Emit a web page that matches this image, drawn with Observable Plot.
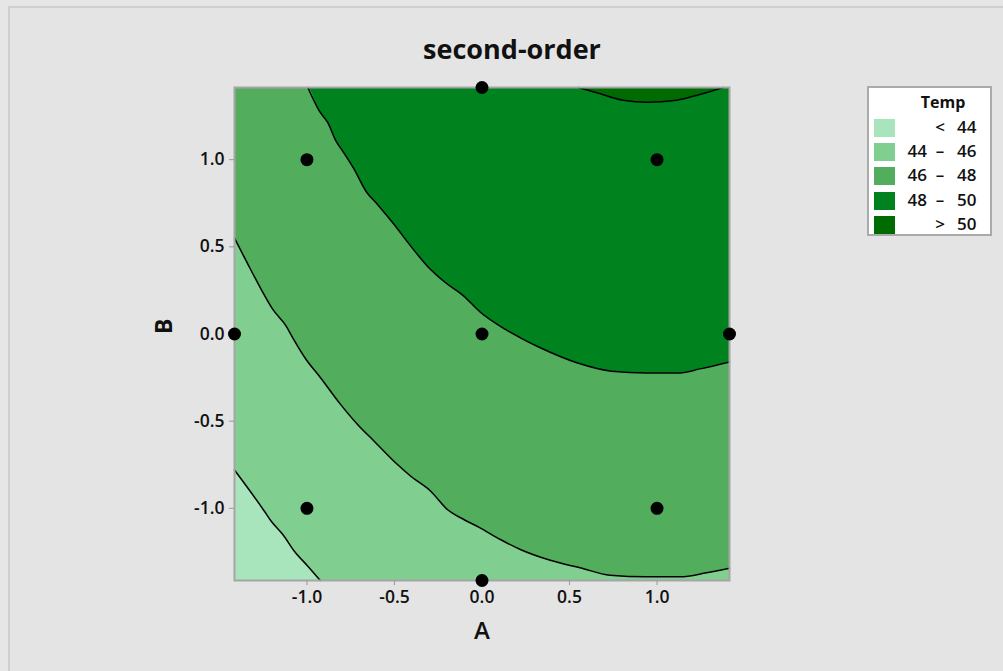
<!DOCTYPE html>
<html>
<head>
<meta charset="utf-8">
<script src="https://cdn.jsdelivr.net/npm/d3@7"></script>
<script src="https://cdn.jsdelivr.net/npm/@observablehq/plot@0.6"></script>
<style>
  html, body { margin: 0; padding: 0; background: #e6e6e6; }
  #wrap { position: relative; width: 1003px; height: 671px; overflow: hidden; background: #e6e6e6;
          font-family: "Open Sans", "Noto Sans", sans-serif; }
  #outer { position: absolute; left: 8px; top: 6px; right: -10px; bottom: -10px;
           border-left: 2px solid #cfcfcf; border-top: 2px solid #cfcfcf; background: #e4e4e4; }
  #title { position: absolute; left: 0; width: 1024px; top: 30px; text-align: center;
           font-size: 27px; font-weight: 700; color: #111; }
  #chart { position: absolute; left: 0; top: 0; }
  #legend { position: absolute; left: 867px; top: 86px; width: 125px; height: 150px;
            background: #fff; border: 2px solid #aaa; box-sizing: border-box; color: #111; }
  #legend .lt { position: absolute; left: 0; width: 148px; top: 3px; text-align: center;
                font-size: 16px; font-weight: 700; }
  #legend .row { position: absolute; left: 0; width: 124px; height: 18px; }
  #legend .sw { position: absolute; left: 5px; top: 0; width: 21px; height: 18px; }
  #legend .a { position: absolute; right: 66px; top: -4px; font-size: 17px; font-weight: 600; }
  #legend .s { position: absolute; left: 64px; width: 14px; text-align: center; top: -4px; font-size: 17px; font-weight: 600; }
  #legend .b { position: absolute; left: 88px; top: -4px; font-size: 17px; font-weight: 600; }
</style>
</head>
<body>
<div id="wrap">
  <div id="outer"></div>
  <div id="title">second-order</div>
  <div id="chart"></div>
  <div id="legend"></div>
</div>
<script>
// ---- data ----
const edge = 1.414; // axial distance of the design (frame limits)

// design points
const ptA = [-1, 1, -1, 1, 0, -1.414, 1.414, 0, 0];
const ptB = [-1, -1, 1, 1, 0, 0, 0, -1.414, 1.414];

// contour boundaries (A, B)
const c44A = [-1.414, -1.318, -1.243, -1.204, -1.138, -1.072, -0.995, -0.924];
const c44B = [-0.78, -0.911, -1.017, -1.074, -1.150, -1.246, -1.332, -1.414];

const c46A = [-1.414, -1.337, -1.261, -1.195, -1.119, -1.081, -1.005, -0.929, -0.815, -0.711, -0.616, -0.483, -0.407, -0.293, -0.198, -0.104, -0.011, 0.105, 0.219, 0.390, 0.561, 0.732, 0.941, 1.130, 1.282, 1.414];
const c46B = [0.55, 0.399, 0.255, 0.141, 0.045, -0.022, -0.146, -0.242, -0.395, -0.519, -0.615, -0.749, -0.816, -0.902, -1.007, -1.064, -1.112, -1.179, -1.236, -1.298, -1.341, -1.384, -1.393, -1.393, -1.370, -1.344];

const c48A = [-0.995, -0.929, -0.881, -0.834, -0.796, -0.730, -0.663, -0.597, -0.502, -0.407, -0.312, -0.208, -0.104, -0.011, 0.134, 0.238, 0.333, 0.542, 0.741, 0.941, 1.130, 1.244, 1.414];
const c48B = [1.414, 1.278, 1.212, 1.106, 1.049, 0.944, 0.819, 0.743, 0.628, 0.504, 0.389, 0.294, 0.217, 0.126, 0.026, -0.032, -0.079, -0.165, -0.213, -0.223, -0.223, -0.200, -0.16];

const c50A = [0.551, 0.656, 0.808, 0.941, 1.112, 1.244, 1.377];
const c50B = [1.414, 1.384, 1.341, 1.330, 1.341, 1.374, 1.414];

// legend
const bands = ["< 44", "44 – 46", "46 – 48", "48 – 50", "> 50"];
const colors = ["#a8e5bd", "#80ce90", "#52ae5c", "#00821f", "#006b00"];
const xTicks = [-1.0, -0.5, 0.0, 0.5, 1.0];
const yTicks = [-1.0, -0.5, 0.0, 0.5, 1.0];

// ---- build tables ----
const zip = (a, b) => a.map((v, i) => ({A: v, B: b[i]}));
const pts = zip(ptA, ptB);
const l44 = zip(c44A, c44B);
const l46 = zip(c46A, c46B);
const l48 = zip(c48A, c48B);
const l50 = zip(c50A, c50B);
const fill48 = [{A: -edge, B: edge}, ...l48];

const fmt = d => d.toFixed(1);
const curve = "monotone-x";

const chart = Plot.plot({
  width: 1003,
  height: 671,
  marginLeft: 234,
  marginRight: 274,
  marginTop: 87,
  marginBottom: 91,
  style: {background: "transparent", fontFamily: "'Open Sans', 'Noto Sans', sans-serif", color: "#111"},
  x: {domain: [-edge, edge], label: null},
  y: {domain: [-edge, edge], label: null},
  marks: [
    Plot.frame({fill: colors[3]}),
    Plot.areaY(fill48, {x: "A", y1: -edge, y2: "B", fill: colors[2], curve}),
    Plot.areaY(l46, {x: "A", y1: -edge, y2: "B", fill: colors[1], curve}),
    Plot.areaY(l44, {x: "A", y1: -edge, y2: "B", fill: colors[0], curve}),
    Plot.areaY(l50, {x: "A", y1: "B", y2: edge, fill: colors[4], curve}),
    Plot.line(l44, {x: "A", y: "B", stroke: "#000", strokeWidth: 1.5, curve}),
    Plot.line(l46, {x: "A", y: "B", stroke: "#000", strokeWidth: 1.5, curve}),
    Plot.line(l48, {x: "A", y: "B", stroke: "#000", strokeWidth: 1.5, curve}),
    Plot.line(l50, {x: "A", y: "B", stroke: "#000", strokeWidth: 1.5, curve}),
    Plot.frame({stroke: "#a5a5a5", strokeWidth: 2}),
    Plot.axisX({ticks: xTicks, tickFormat: fmt, tickSize: 5, tickPadding: 5, stroke: "#999",
                fontSize: 17.5, fontWeight: 600, label: null}),
    Plot.axisY({ticks: yTicks, tickFormat: fmt, tickSize: 5, tickPadding: 5, stroke: "#999",
                fontSize: 17.5, fontWeight: 600, label: null}),
    Plot.text(["A"], {frameAnchor: "bottom", dy: 58, fontSize: 24, fontWeight: 600, fill: "#111"}),
    Plot.text(["B"], {frameAnchor: "left", dx: -70, rotate: -90, fontSize: 23, fontWeight: 700, fill: "#111"}),
    Plot.dot(pts, {x: "A", y: "B", r: 6.5, fill: "#000", stroke: "none"})
  ]
});
document.getElementById("chart").appendChild(chart);

// legend
const lg = document.getElementById("legend");
const t = document.createElement("div");
t.className = "lt"; t.textContent = "Temp";
lg.appendChild(t);
bands.forEach((b, i) => {
  const row = document.createElement("div");
  row.className = "row";
  row.style.top = (31 + i * 24.2) + "px";
  const sw = document.createElement("div");
  sw.className = "sw"; sw.style.background = colors[i];
  row.appendChild(sw);
  const parts = b.split(" ");
  let a = "", s = "", c = "";
  if (parts.length === 2) { s = parts[0]; c = parts[1]; }
  else { a = parts[0]; s = parts[1]; c = parts[2]; }
  const ea = document.createElement("span"); ea.className = "a"; ea.textContent = a;
  const es = document.createElement("span"); es.className = "s"; es.textContent = s;
  const ec = document.createElement("span"); ec.className = "b"; ec.textContent = c;
  row.appendChild(ea); row.appendChild(es); row.appendChild(ec);
  lg.appendChild(row);
});
</script>
</body>
</html>
